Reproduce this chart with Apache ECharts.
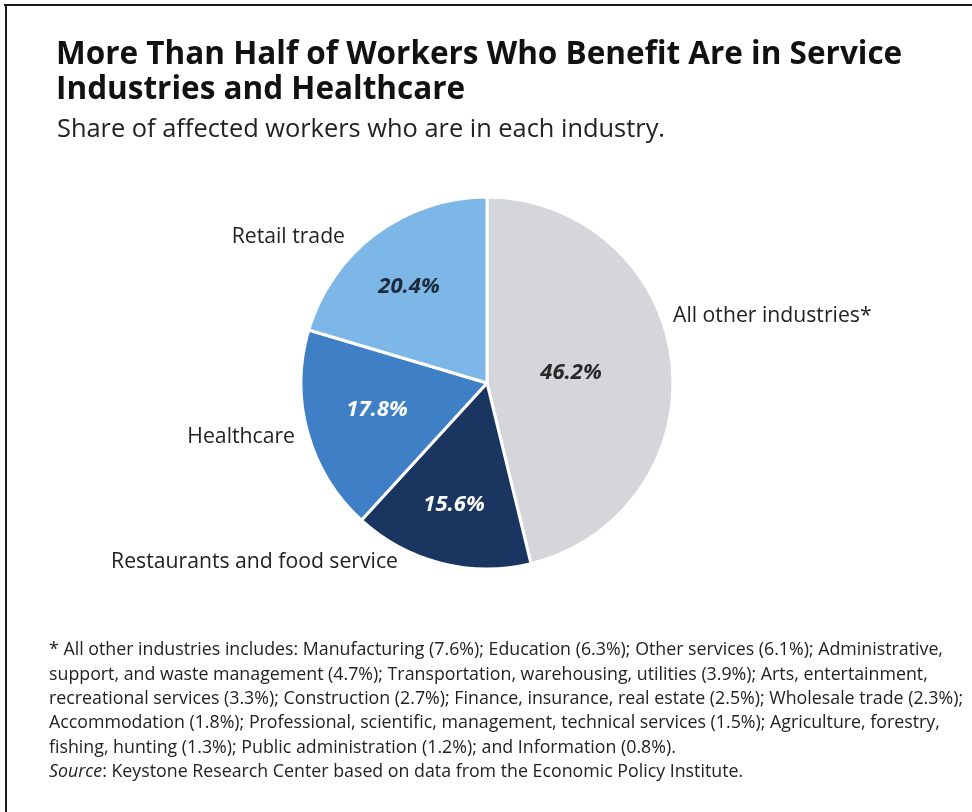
<!DOCTYPE html>
<html>
<head>
<meta charset="utf-8">
<script src="https://cdn.jsdelivr.net/npm/echarts@6/dist/echarts.min.js"></script>
<style>
html,body{margin:0;padding:0;background:#fff;}
#chart{width:972px;height:812px;}
</style>
</head>
<body>
<div id="chart"></div>
<script>
// ---- data ----
const categories = ['All other industries*', 'Restaurants and food service', 'Healthcare', 'Retail trade'];
const shares = [46.2, 15.6, 17.8, 20.4];

const titleText = 'More Than Half of Workers Who Benefit Are in Service\nIndustries and Healthcare';
const subtitleText = 'Share of affected workers who are in each industry.';
const footnoteLines = [
  '* All other industries includes: Manufacturing (7.6%); Education (6.3%); Other services (6.1%); Administrative,',
  'support, and waste management (4.7%); Transportation, warehousing, utilities (3.9%); Arts, entertainment,',
  'recreational services (3.3%); Construction (2.7%); Finance, insurance, real estate (2.5%); Wholesale trade (2.3%);',
  'Accommodation (1.8%); Professional, scientific, management, technical services (1.5%); Agriculture, forestry,',
  'fishing, hunting (1.3%); Public administration (1.2%); and Information (0.8%).'
];
const sourceLabel = 'Source';
const sourceText = ': Keystone Research Center based on data from the Economic Policy Institute.';

// ---- styles / layout ----
const FONT = '"Open Sans", Lato, sans-serif';
const sliceColors = ['#d5d6da', '#1b3561', '#3f7fc5', '#7cb7e7'];
const pctColors = ['#2a2a2a', '#ffffff', '#ffffff', '#1e2a3a'];
const pctPos = [[571, 373], [454, 505], [377, 410], [409, 287]];
const namePos = [[673, 316, 'left'], [398, 562, 'right'], [295, 437, 'right'], [345, 237, 'right']];

const chart = echarts.init(document.getElementById('chart'), null, {renderer: 'canvas'});

const mainData = categories.map((c, i) => ({
  name: c, value: shares[i],
  itemStyle: {color: sliceColors[i]},
  label: {color: pctColors[i]}
}));
const nameData = categories.map((c, i) => ({name: c, value: shares[i]}));

const option = {
  backgroundColor: '#ffffff',
  animation: false,
  title: [
    {
      text: titleText, left: 51, top: 33,
      textStyle: {fontFamily: FONT, fontWeight: 'bold', fontSize: 31.5, lineHeight: 35, color: '#111'}
    },
    {
      text: subtitleText, left: 52, top: 112,
      textStyle: {fontFamily: FONT, fontWeight: 'normal', fontSize: 25.4, color: '#222'}
    },
    {
      text: footnoteLines.join('\n') + '\n{i|' + sourceLabel + '}' + sourceText,
      left: 44, top: 633,
      textStyle: {
        fontFamily: FONT, fontSize: 17.8, lineHeight: 24.4, color: '#222', fontWeight: 'normal',
        rich: {i: {fontFamily: FONT, fontStyle: 'italic', fontSize: 17.8, lineHeight: 24.4, color: '#222'}}
      }
    }
  ],
  graphic: [
    {type: 'rect', shape: {x: 4, y: 4, width: 970, height: 2}, style: {fill: '#1a1a1a'}},
    {type: 'rect', shape: {x: 5, y: 4, width: 2, height: 810}, style: {fill: '#1a1a1a'}}
  ],
  series: [
    {
      type: 'pie',
      center: [487, 383],
      radius: [0, 186],
      startAngle: 90,
      clockwise: true,
      silent: true,
      data: mainData,
      itemStyle: {borderColor: '#ffffff', borderWidth: 3},
      label: {
        show: true, position: 'inside',
        formatter: p => p.value.toFixed(1) + '%',
        fontFamily: FONT, fontSize: 22, fontStyle: 'italic', fontWeight: 'bold'
      },
      labelLine: {show: false},
      labelLayout: p => ({x: pctPos[p.dataIndex][0], y: pctPos[p.dataIndex][1], align: 'center', verticalAlign: 'middle'}),
      emphasis: {disabled: true}
    },
    {
      type: 'pie',
      center: [487, 383],
      radius: [0, 186],
      startAngle: 90,
      clockwise: true,
      silent: true,
      data: nameData,
      itemStyle: {color: 'rgba(0,0,0,0)'},
      label: {
        show: true, position: 'outside',
        formatter: '{b}',
        fontFamily: FONT, fontSize: 21.2, color: '#222'
      },
      labelLine: {show: false},
      labelLayout: p => ({x: namePos[p.dataIndex][0], y: namePos[p.dataIndex][1], align: namePos[p.dataIndex][2], verticalAlign: 'middle'}),
      emphasis: {disabled: true}
    }
  ]
};
chart.setOption(option);
</script>
</body>
</html>
